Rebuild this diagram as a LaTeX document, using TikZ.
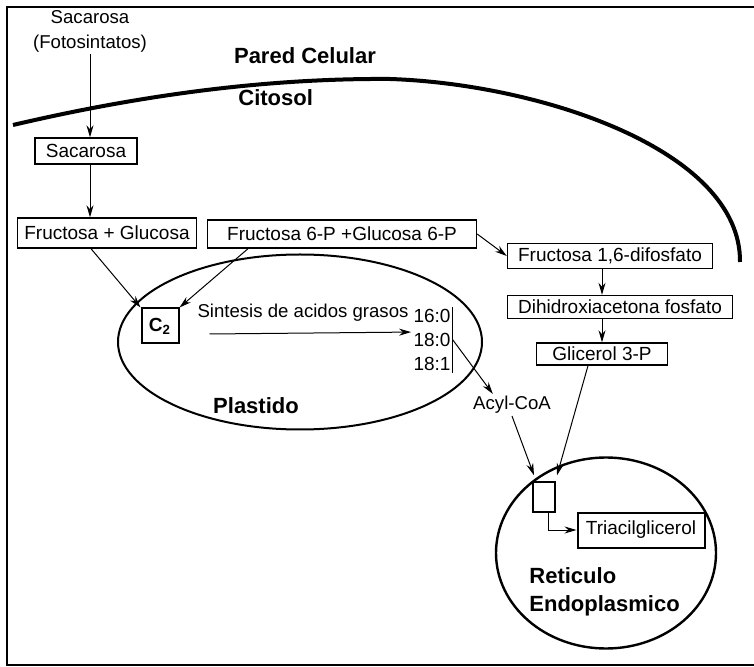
\documentclass[tikz,border=0pt]{standalone}
\usepackage{fontspec}
\setmainfont{Liberation Sans}
\usetikzlibrary{shapes.geometric, arrows.meta, positioning, calc}
\tikzset{
  bx/.style={rectangle, draw, line width=0.7pt, inner sep=1pt,
    font=\fontsize{9.5}{11}\selectfont, text centered},
  bxk/.style={bx, line width=1pt},
  lbl/.style={font=\fontsize{9.3}{12.5}\selectfont, align=center, inner sep=1pt},
  ttl/.style={font=\fontsize{11}{14}\selectfont\bfseries, align=left, inner sep=1pt},
  org/.style={ellipse, draw, line width=1pt, inner sep=0pt},
  arr/.style={-{Stealth[length=6pt,width=3.5pt]}, line width=0.5pt},
  wall/.style={line width=2pt}
}
\begin{document}
\begin{tikzpicture}[x=0.5pt, y=-0.5pt]
  \useasboundingbox (0,0) rectangle (754,667);
  % marco
  \draw[line width=0.8pt] (754,7) -- (7,7) -- (7,665) -- (754,665);
  % pared celular
  \draw[wall] (13,125) .. controls (120,100) and (250,78) .. (390,79)
    .. controls (540,84) and (741,150) .. (740,262);
  \node[ttl] (pared) at (305,56) {Pared Celular};
  \node[ttl, anchor=west] (cito) at (236,98) {Citosol};
  % organelos
  \node[org, minimum width=182pt, minimum height=87.5pt] (plast) at (300,342) {};
  \node[ttl] (plastlbl) at (256,406) {Plastido};
  \node[org, line width=1.2pt, minimum width=110pt, minimum height=95.5pt] (re) at (606,553) {};
  \node[ttl, anchor=west] (relbl) at (527,592) {Reticulo\\Endoplasmico};
  % metabolitos
  \node[lbl] (src) at (90,31) {Sacarosa\\(Fotosintatos)};
  \node[bx, minimum width=51pt, minimum height=13pt] (sac) at (86,151) {Sacarosa};
  \node[bx, minimum width=89.5pt, minimum height=15pt] (fg) at (107,233) {Fructosa + Glucosa};
  \node[bx, minimum width=134.5pt, minimum height=14pt] (f6p) at (342,234) {Fructosa 6-P +Glucosa 6-P};
  \node[bx, minimum width=102.5pt, minimum height=12.5pt] (fdp) at (610,256) {Fructosa 1,6-difosfato};
  \node[bx, minimum width=112.5pt, minimum height=11.5pt] (dhap) at (620,307) {Dihidroxiacetona fosfato};
  \node[bx, minimum width=65.5pt, minimum height=11pt] (g3p) at (602,354) {Glicerol 3-P};
  \node[bxk, minimum width=18.5pt, minimum height=17.5pt] (c2) at (160,326) {\textbf{C\textsubscript{2}}};
  \node[lbl] (sint) at (303,313) {Sintesis de acidos grasos};
  \node[lbl, align=right, font=\fontsize{9.5}{12}\selectfont] (fa) at (432,340) {16:0\\18:0\\18:1};
  \node[lbl] (acyl) at (512,405) {Acyl-CoA};
  \node[bx, minimum width=11pt, minimum height=15pt] (sm) at (544,497) {};
  \node[bxk, minimum width=63.5pt, minimum height=17.5pt] (tag) at (641,530) {Triacilglicerol};
  % flechas
  \draw[arr] (src.south) -- (src.south |- sac.north);
  \draw[arr] (src |- sac.south) -- (src |- fg.north);
  \draw[arr] ([xshift=-8pt]fg.south) -- (c2.north west);
  \draw[arr] ([xshift=-47pt]f6p.south) -- (c2.north east);
  \draw[arr] (f6p.east) -- (fdp.west);
  \draw[arr] (fdp.south -| g3p) -- (dhap.north -| g3p);
  \draw[arr] (dhap.south -| g3p) -- (g3p.north);
  \draw[arr] ([xshift=15pt,yshift=-4pt]c2.east) -- ([yshift=-4pt]fa.west |- sint.south);
  \draw[line width=0.6pt] (fa.north east) -- (fa.south east);
  \draw[arr] (fa.east) -- ([xshift=11pt]acyl.north west);
  \draw[arr] (acyl.south) -- ([xshift=-5pt,yshift=3pt]sm.north);
  \draw[arr] ([xshift=-7pt]g3p.south) -- ([xshift=6.5pt,yshift=3pt]sm.north);
  \draw[arr] ([xshift=2pt]sm.south) |- (tag.west);
\end{tikzpicture}
\end{document}
